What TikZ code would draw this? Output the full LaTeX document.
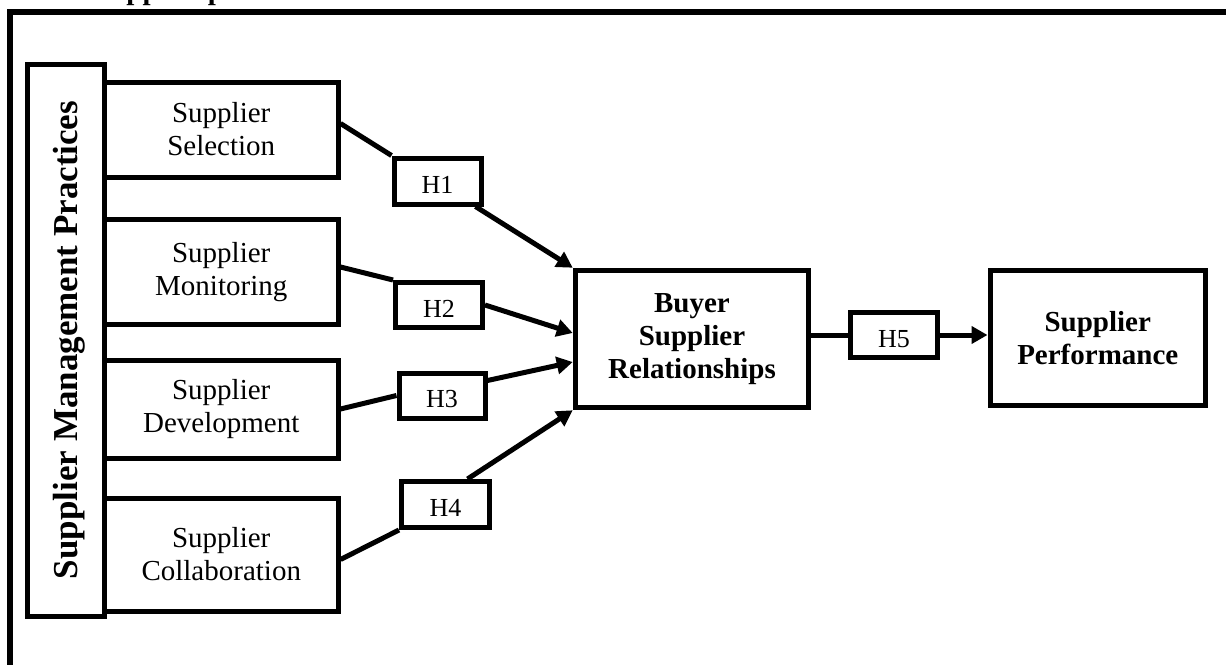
\documentclass[tikz,border=0pt]{standalone}
\usepackage{fontspec}
\setmainfont{Liberation Serif}
\usetikzlibrary{arrows.meta}
\begin{document}
\begin{tikzpicture}[x=1pt,y=-1pt,
  box/.style={draw,line width=5pt,inner sep=0pt,align=center,
              font=\fontsize{29}{33}\selectfont},
  boldbox/.style={box,font=\bfseries\fontsize{29}{33}\selectfont},
  hbox/.style={draw,line width=5pt,inner sep=0pt,minimum width=87pt,
               minimum height=46pt,text height=24pt,text depth=0pt,
               font=\fontsize{26}{30}\selectfont},
  link/.style={line width=5pt},
  arrowlink/.style={line width=5pt,-{Triangle[length=16pt,width=17pt]}}
]
\useasboundingbox (0,0) rectangle (1226,664);
\fill[white] (0,0) rectangle (1226,664);
\clip (0,0) rectangle (1226,664);

% caption above the frame (only its lower edge falls inside the page)
\node[anchor=base west,inner sep=0pt,font=\bfseries\fontsize{29}{33}\selectfont]
  (caption) at (94,-0.5) {Supplier performance};

% outer frame
\draw[line width=5.5pt] (10,700) -- (10,12) -- (1260,12);

% supplier management practices block
\node[boldbox,minimum width=77pt,minimum height=551.5pt] (smp) at (66,340.25) {};
\node[rotate=90,inner sep=0pt,font=\bfseries\fontsize{35}{40}\selectfont]
  (smplabel) at (69,340) {Supplier Management Practices};

\node[box,minimum width=233.5pt,minimum height=95pt]  (sel) at (221.25,129.5) {Supplier\\Selection};
\node[box,minimum width=233.5pt,minimum height=105pt] (mon) at (221.25,272)   {Supplier\\Monitoring};
\node[box,minimum width=233.5pt,minimum height=98pt]  (dev) at (221.25,409)   {Supplier\\Development};
\node[box,minimum width=233.5pt,minimum height=113pt] (col) at (221.25,554.5) {Supplier\\Collaboration};

% hypotheses
\node[hbox] (h1) at (437.5,181)   {H1};
\node[hbox,minimum height=45pt] (h2) at (439,305)     {H2};
\node[hbox,minimum height=45pt,minimum width=86pt] (h3) at (442,395.5) {H3};
\node[hbox,minimum width=88pt] (h4) at (445.5,504.5) {H4};
\node[hbox,minimum height=45pt] (h5) at (894,335)     {H5};

% mediator and outcome
\node[boldbox,minimum width=233.5pt,minimum height=137.5pt] (bsr) at (692,339)
  {Buyer\\Supplier\\Relationships};
\node[boldbox,minimum width=215.5pt,minimum height=135.5pt] (sp) at (1097.75,337.75)
  {Supplier\\Performance};

% connectors
\draw[link] ([yshift=6pt]sel.east) -- (h1.north west);
\draw[arrowlink] ([xshift=38pt]h1.south) -- (bsr.north west);

\draw[link] ([yshift=5pt]mon.east) -- (h2.north west);
\draw[arrowlink] (h2.east) -- ([yshift=6pt]bsr.west);

\draw[link] (dev.east) -- (h3.west);
\draw[arrowlink] ([yshift=15pt]h3.east) -- ([yshift=-23pt]bsr.west);

\draw[link] ([yshift=-5pt]col.east) -- (h4.south west);
\draw[arrowlink] ([xshift=22pt]h4.north) -- (bsr.south west);

\draw[link] (h5.west -| bsr.east) -- (h5.west);
\draw[arrowlink] (h5.east) -- (h5.east -| sp.west);
\end{tikzpicture}
\end{document}
